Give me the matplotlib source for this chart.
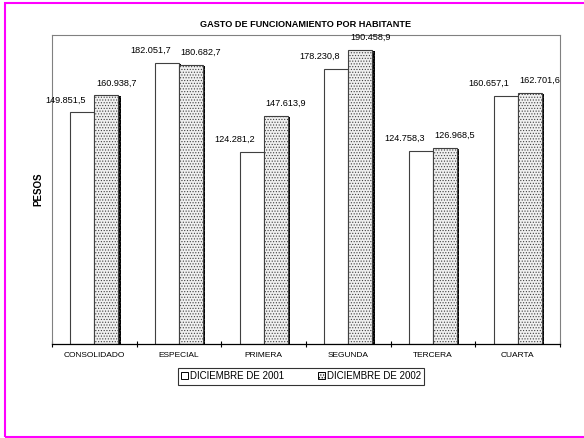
import numpy as np
import matplotlib
matplotlib.use('Agg')
import matplotlib.pyplot as plt
import matplotlib.patheffects as pe
from matplotlib.patches import Rectangle

plt.rcParams['font.family'] = ['Liberation Sans', 'DejaVu Sans']
plt.rcParams['hatch.linewidth'] = 0.5
plt.rcParams['hatch.color'] = '#c4c4c4'

categories = ['CONSOLIDADO', 'ESPECIAL', 'PRIMERA', 'SEGUNDA', 'TERCERA', 'CUARTA']
dic_2001 = [149851.5, 182051.7, 124281.2, 178230.8, 124758.3, 160657.1]
dic_2002 = [160938.7, 180682.7, 147613.9, 190458.9, 126968.5, 162701.6]
series_names = ['DICIEMBRE DE 2001', 'DICIEMBRE DE 2002']


def fmt(v):
    s = f'{v:,.1f}'
    return s.replace(',', 'X').replace('.', ',').replace('X', '.')


fig = plt.figure(figsize=(5.84, 4.38), dpi=100)
ax = fig.add_axes([52 / 584, 94 / 438, 508 / 584, 309 / 438])

x = np.arange(len(categories))
w = 0.285
shadow = [pe.SimplePatchShadow(offset=(1.6, -0.8), shadow_rgbFace='black', alpha=1), pe.Normal()]

b1 = ax.bar(x - w / 2, dic_2001, w, facecolor='white', edgecolor='#404040',
            linewidth=0.8, label=series_names[0], path_effects=shadow)
b2 = ax.bar(x + w / 2, dic_2002, w, facecolor='#f0f0f0', edgecolor='#404040',
            linewidth=0.8, hatch='......', label=series_names[1], path_effects=shadow)

for xi, v in zip(x, dic_2001):
    ax.annotate(fmt(v), (xi - w / 2, v), xytext=(-12, 9), textcoords='offset points',
                ha='center', va='center', fontsize=6.6)
for xi, v in zip(x, dic_2002):
    ax.annotate(fmt(v), (xi + w / 2, v), xytext=(7, 9), textcoords='offset points',
                ha='center', va='center', fontsize=6.6)

ax.set_xlim(-0.5, len(categories) - 0.5)
ax.set_ylim(0, 200000)
ax.set_yticks([])
ax.set_xticks(x)
ax.set_xticklabels(categories, fontsize=6)
ax.tick_params(axis='x', which='major', length=0, pad=6)
ax.set_xticks(np.arange(len(categories) + 1) - 0.5, minor=True)
ax.tick_params(axis='x', which='minor', length=4, width=0.8, direction='inout')

for s in ['left', 'top', 'right']:
    ax.spines[s].set_color('#808080')
    ax.spines[s].set_linewidth(0.8)
ax.spines['bottom'].set_color('black')
ax.spines['bottom'].set_linewidth(0.9)

ax.set_title('GASTO DE FUNCIONAMIENTO POR HABITANTE', fontsize=6.6,
             fontweight='bold', pad=6)
ax.set_ylabel('PESOS', fontsize=7, fontweight='bold', labelpad=6)

leg = ax.legend(loc='center', bbox_to_anchor=(0.49, -0.104), ncol=2, fontsize=7,
                frameon=True, fancybox=False, handlelength=0.7, handleheight=0.7,
                handletextpad=0.2, columnspacing=3.5, borderpad=0.35, shadow=False)
leg.get_frame().set_edgecolor('black')
leg.get_frame().set_linewidth(0.8)
for h in leg.legend_handles:
    h.set_path_effects([])
    h.set_edgecolor('black')
    h.set_linewidth(0.7)

fig.patches.append(Rectangle((5 / 584, 1 / 438), 1.2, 434 / 438, transform=fig.transFigure,
                             fill=False, edgecolor='#ff00ff', linewidth=1.5))

fig.savefig('out.png', dpi=100)
